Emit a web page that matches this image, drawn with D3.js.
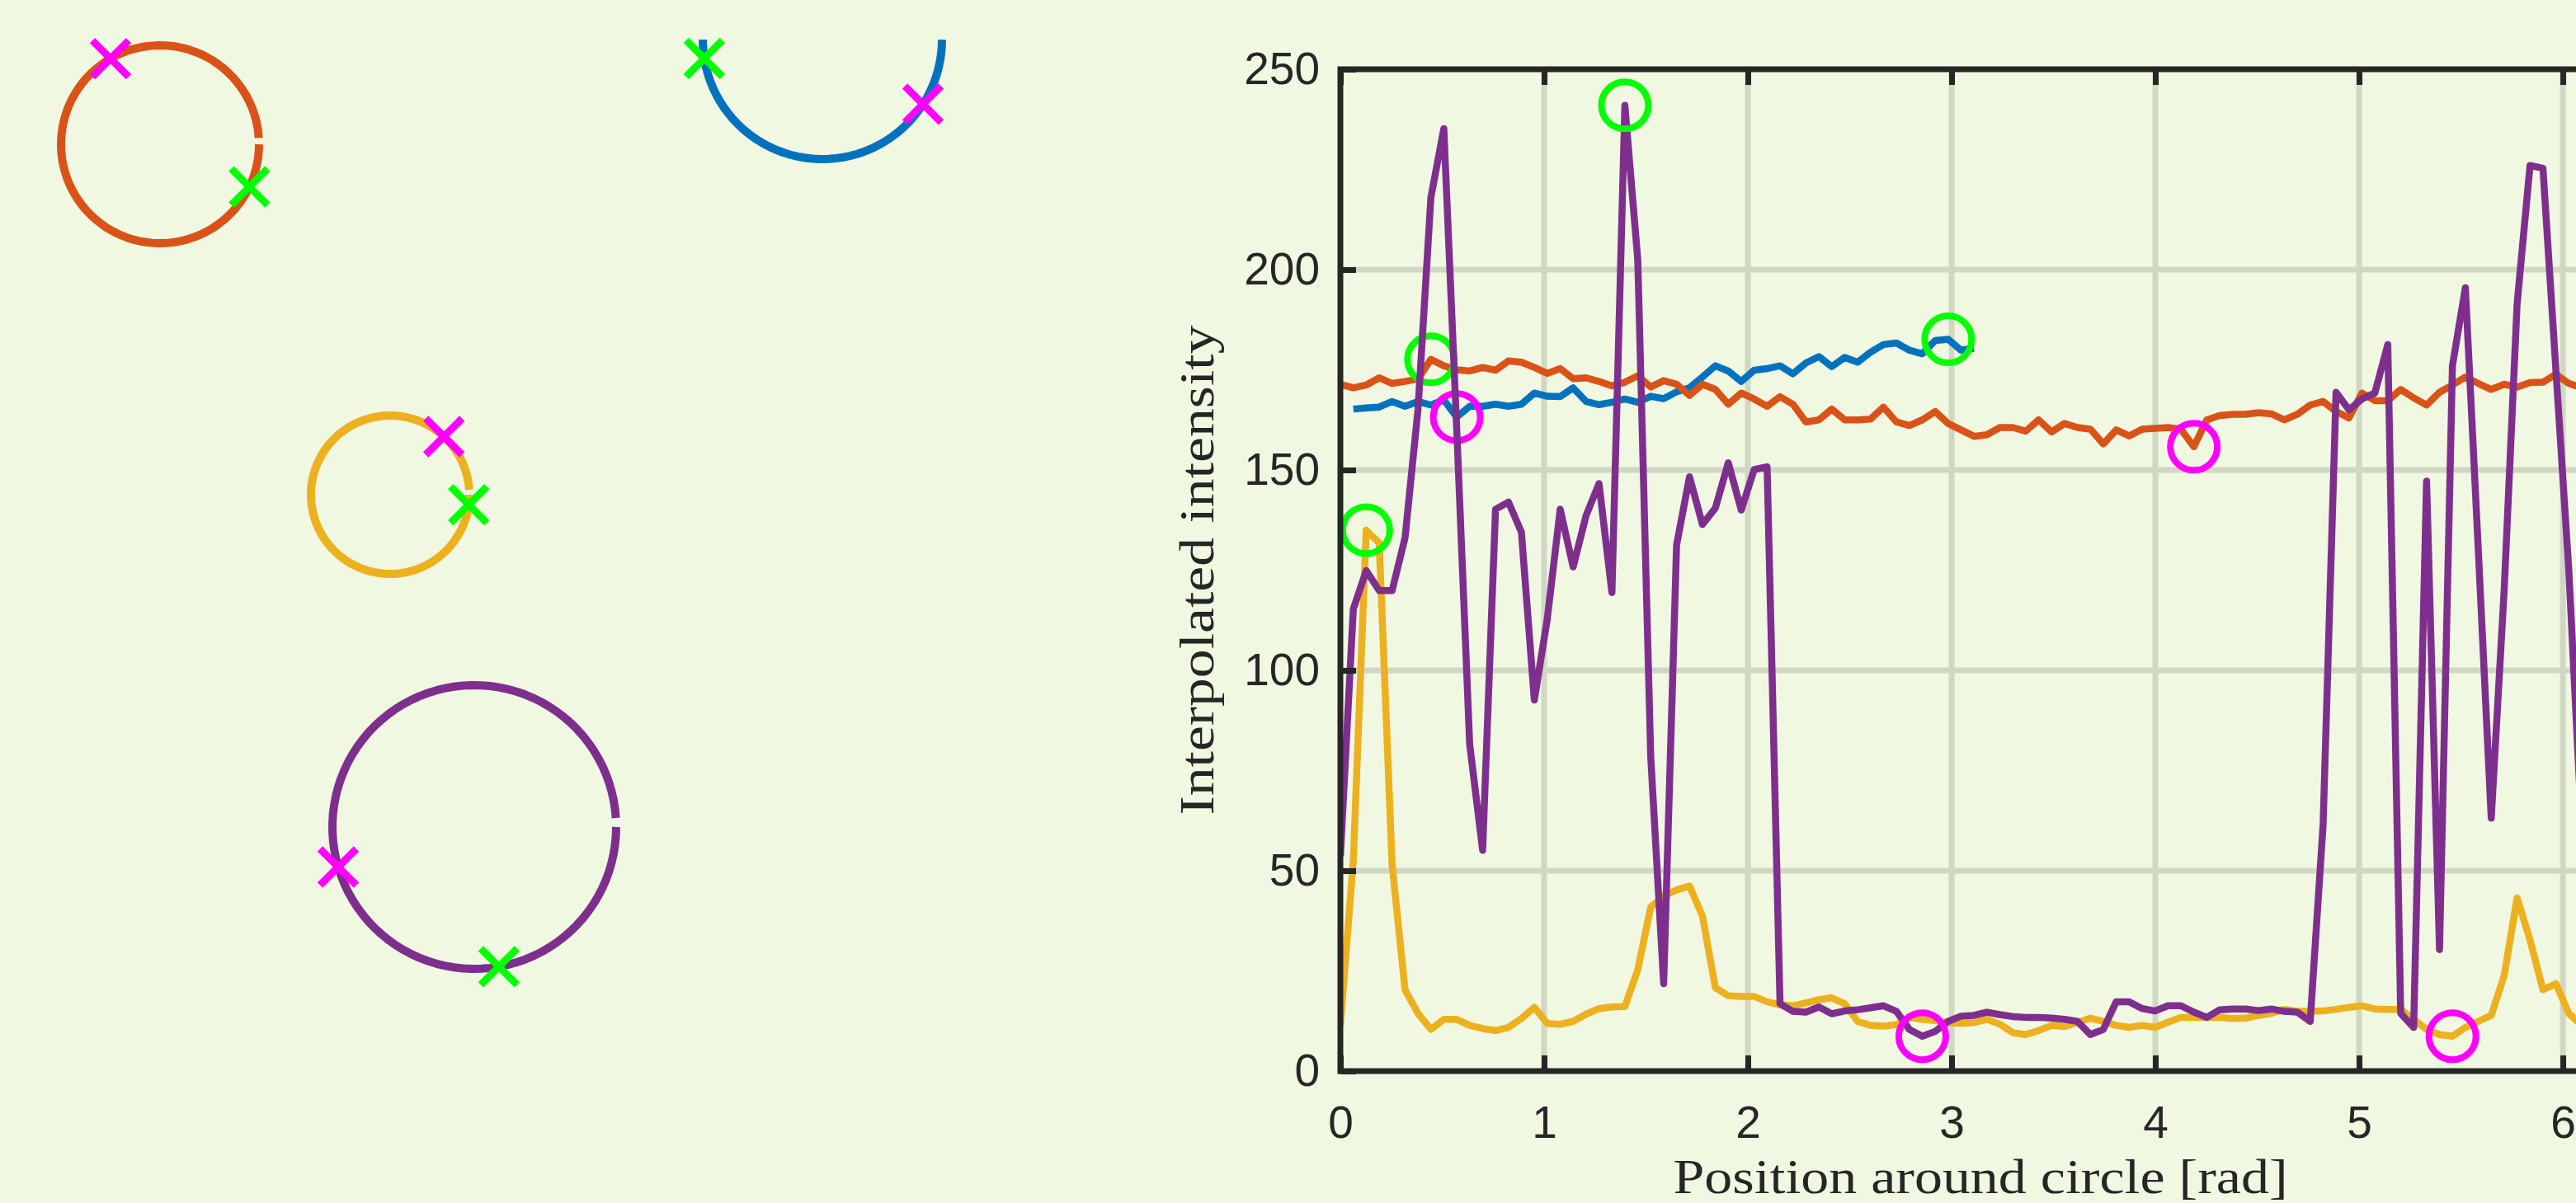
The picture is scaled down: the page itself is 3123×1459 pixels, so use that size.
<!DOCTYPE html>
<html><head><meta charset="utf-8">
<script src="https://cdn.jsdelivr.net/npm/d3@7"></script>
<style>
html,body{margin:0;padding:0;background:#f0f8e1;}
svg{display:block;}
</style></head><body>
<script>
// ---------------- data ----------------
const nSamples = 100;                 // samples taken around each circle (0 .. 2*pi)
const xTicks = [0, 1, 2, 3, 4, 5, 6];
const yTicks = [0, 50, 100, 150, 200, 250];
const xDomain = [0, 2 * Math.PI];
const yDomain = [0, 250];
const xLabel = "Position around circle [rad]";
const yLabel = "Interpolated intensity";

const seriesColors = ["#0072BD", "#D95319", "#EDB120", "#7E2F8E"];

// intensity profiles (index = sample number around the circle); null = outside image
const blueIntensity = [null,
  165.2, 165.5, 165.7, 167.1, 165.9, 167.1, 166.2, 167.5, 163.2, 165.9,
  165.9, 166.4, 165.9, 166.4, 169.2, 168.4, 168.3, 170.5, 167.1, 166.3,
  166.9, 167.7, 166.9, 168.4, 167.8, 169.5, 170.5, 173.2, 176.0, 174.7,
  172.1, 174.9, 175.3, 176.0, 174.0, 176.7, 178.3, 175.8, 178.1, 176.9,
  179.4, 181.3, 181.7, 179.9, 179.0, 182.3, 182.6, 179.9, 180.4];

const orangeIntensity = [
  171.4, 170.5, 171.2, 173.0, 171.6, 172.1, 172.7, 177.6, 176.0, 175.0,
  174.7, 175.6, 174.9, 177.2, 176.9, 175.6, 174.1, 175.3, 172.8, 173.0,
  172.1, 171.0, 171.9, 173.5, 170.7, 172.3, 171.4, 168.6, 171.4, 170.1,
  166.4, 169.2, 167.7, 165.9, 168.3, 166.4, 162.0, 162.5, 165.2, 162.5,
  162.5, 162.7, 165.7, 162.0, 161.1, 162.5, 164.6, 161.6, 160.0, 158.4,
  158.8, 160.6, 160.6, 159.7, 162.5, 159.5, 161.6, 160.6, 160.2, 156.5,
  160.0, 158.5, 160.2, 160.4, 160.6, 160.2, 155.8, 162.5, 163.6, 163.9,
  163.9, 164.3, 164.0, 162.5, 163.9, 166.2, 167.1, 164.6, 163.0, 169.2,
  167.3, 167.3, 170.1, 168.0, 166.2, 169.4, 171.2, 173.2, 171.6, 170.1,
  171.4, 170.7, 171.8, 171.9, 173.9, 171.6, 170.5, 171.0];

const yellowIntensity = [
  11.4, 52.6, 135.0, 131.8, 51.6, 20.3, 14.4, 10.4, 12.9, 12.9,
  11.4, 10.6, 10.1, 10.9, 13.1, 15.9, 11.9, 11.7, 12.4, 14.2,
  15.6, 16.0, 16.1, 25.3, 40.9, 43.7, 45.2, 46.2, 38.7, 20.8,
  18.8, 18.6, 18.6, 17.3, 16.5, 16.3, 17.0, 17.8, 18.3, 16.8,
  12.4, 11.4, 11.2, 11.6, 13.4, 12.9, 12.6, 12.1, 11.9, 12.1,
  12.9, 11.7, 9.6, 9.1, 10.1, 11.4, 11.1, 12.1, 13.2, 12.4,
  11.4, 10.9, 11.4, 10.9, 12.2, 13.4, 13.4, 13.4, 13.4, 13.1,
  13.2, 13.9, 14.4, 15.4, 14.9, 14.9, 15.0, 15.4, 15.9, 16.3,
  15.5, 15.4, 15.4, 12.9, 10.4, 9.1, 8.7, 10.9, 12.4, 13.9,
  23.8, 43.2, 32.7, 20.3, 21.8, 14.4, 11.4, 10.5];

const purpleIntensity = [
  53.6, 115.3, 124.9, 119.9, 119.9, 133.1, 165.0, 218.0, 235.2, 160.0,
  81.5, 55.1, 140.2, 142.0, 134.5, 92.6, 112.8, 140.2, 125.8, 138.6,
  146.6, 119.4, 241.0, 202.4, 78.5, 21.8, 131.3, 148.3, 136.4, 140.5,
  151.8, 140.0, 150.1, 150.8, 16.8, 14.9, 14.7, 16.0, 14.3, 15.0,
  15.3, 15.8, 16.3, 14.9, 10.4, 8.7, 9.9, 12.4, 13.7, 13.9,
  14.7, 14.1, 13.6, 13.4, 13.4, 13.2, 12.9, 12.4, 9.1, 10.4,
  17.3, 17.3, 15.6, 15.0, 16.3, 16.3, 14.7, 13.4, 15.3, 15.5,
  15.5, 15.1, 15.5, 14.9, 14.7, 12.4, 61.6, 169.4, 165.0, 167.7,
  169.2, 181.3, 14.4, 10.9, 147.2, 30.3, 176.0, 195.5, 130.0, 63.1,
  120.0, 191.4, 226.0, 225.3, 175.0, 125.0, 60.0, 30.0];

// detected circles in image pixel units (same order as series)
const circleCx = [498.5, 97, 236.5, 287.5];
const circleCy = [0, 63.5, 276, 477.5];
const circleR  = [72.5, 60, 48, 86];

const profiles = [blueIntensity, orangeIntensity, yellowIntensity, purpleIntensity];

// ---------------- layout ----------------
const W = 3123, H = 1459;
const bg = "#f0f8e1";
const axisColor = "#262626";
const gridColor = "#d0d7c3";
const plot = {left: 1625, right: 3177, top: 84, bottom: 1299};
const img = {x0: 0, x1: 1400, y0: 48, y1: 1448, size: 700};

const theta = d3.range(nSamples).map(i => i * 2 * Math.PI / (nSamples - 1));

const svg = d3.select("body").append("svg")
  .attr("width", W).attr("height", H)
  .style("background", bg);

const defs = svg.append("defs");
defs.append("clipPath").attr("id", "plotClip").append("rect")
  .attr("x", plot.left).attr("y", plot.top)
  .attr("width", plot.right - plot.left).attr("height", plot.bottom - plot.top);
defs.append("clipPath").attr("id", "imgClip").append("rect")
  .attr("x", img.x0).attr("y", img.y0)
  .attr("width", img.x1 - img.x0).attr("height", img.y1 - img.y0);

// ---------------- left panel: circles ----------------
const ix = d3.scaleLinear().domain([0, img.size]).range([img.x0, img.x1]);
const iy = d3.scaleLinear().domain([0, img.size]).range([img.y0, img.y1]);

const left = svg.append("g");
const xMark = s => `M${-s},${-s}L${s},${s}M${-s},${s}L${s},${-s}`;

profiles.forEach((prof, k) => {
  const pts = theta.slice(0, nSamples - 1).map(t => [
    ix(circleCx[k] + circleR[k] * Math.cos(t)),
    iy(circleCy[k] + circleR[k] * Math.sin(t))]);
  left.append("path")
    .attr("d", d3.line()(pts))
    .attr("clip-path", "url(#imgClip)")
    .attr("fill", "none").attr("stroke", seriesColors[k])
    .attr("stroke-width", 10).attr("stroke-linejoin", "round");
});
profiles.forEach((prof, k) => {
  const iMax = d3.maxIndex(prof), iMin = d3.minIndex(prof);
  [[iMin, "#ff00ff"], [iMax, "#00ff00"]].forEach(([i, c]) => {
    left.append("path")
      .attr("d", xMark(22))
      .attr("transform", `translate(${ix(circleCx[k] + circleR[k] * Math.cos(theta[i]))},${iy(circleCy[k] + circleR[k] * Math.sin(theta[i]))})`)
      .attr("fill", "none").attr("stroke", c).attr("stroke-width", 9);
  });
});

// ---------------- right panel: profiles ----------------
const x = d3.scaleLinear().domain(xDomain).range([plot.left, plot.right]);
const y = d3.scaleLinear().domain(yDomain).range([plot.bottom, plot.top]);

const grid = svg.append("g");
grid.selectAll("line.gx").data(xTicks.filter(t => t > 0)).join("line")
  .attr("x1", d => x(d)).attr("x2", d => x(d))
  .attr("y1", plot.top).attr("y2", plot.bottom)
  .attr("stroke", gridColor).attr("stroke-width", 7);
grid.selectAll("line.gy").data(yTicks.filter(t => t > 0 && t < 250)).join("line")
  .attr("x1", plot.left).attr("x2", plot.right)
  .attr("y1", d => y(d)).attr("y2", d => y(d))
  .attr("stroke", gridColor).attr("stroke-width", 7);

const lines = svg.append("g").attr("clip-path", "url(#plotClip)");
const lineGen = d3.line()
  .defined(d => d[1] != null)
  .x(d => x(d[0])).y(d => y(d[1]));

profiles.forEach((prof, k) => {
  const pts = prof.map((v, i) => [theta[i], v]);
  lines.append("path")
    .attr("d", lineGen(pts))
    .attr("fill", "none").attr("stroke", seriesColors[k])
    .attr("stroke-width", 8.5).attr("stroke-linejoin", "round").attr("stroke-linecap", "butt");
  const iMax = d3.maxIndex(prof), iMin = d3.minIndex(prof);
  [[iMax, "#00ff00"], [iMin, "#ff00ff"]].forEach(([i, c]) => {
    lines.append("circle")
      .attr("cx", x(theta[i])).attr("cy", y(prof[i])).attr("r", 28.5)
      .attr("fill", "none").attr("stroke", c).attr("stroke-width", 8);
  });
});

// axes (box with inward ticks)
const fontTick = "'Liberation Sans', Arial, Helvetica, sans-serif";
function styleAxis(g) {
  g.select(".domain").remove();
  g.selectAll(".tick line").attr("stroke", axisColor).attr("stroke-width", 7);
  g.selectAll(".tick text").attr("fill", axisColor)
    .style("font-family", fontTick).style("font-size", "55px");
}
svg.append("g").attr("transform", `translate(0,${plot.bottom})`)
  .call(d3.axisBottom(x).tickValues(xTicks).tickFormat(d3.format("d")).tickSize(-19).tickPadding(42))
  .call(styleAxis);
svg.append("g").attr("transform", `translate(0,${plot.top})`)
  .call(d3.axisTop(x).tickValues(xTicks).tickFormat("").tickSize(-19))
  .call(styleAxis);
svg.append("g").attr("transform", `translate(${plot.left},0)`)
  .call(d3.axisLeft(y).tickValues(yTicks).tickFormat(d3.format("d")).tickSize(-19).tickPadding(25))
  .call(styleAxis);
svg.append("g").attr("transform", `translate(${plot.right},0)`)
  .call(d3.axisRight(y).tickValues(yTicks).tickFormat("").tickSize(-19))
  .call(styleAxis);

svg.append("rect")
  .attr("x", plot.left).attr("y", plot.top)
  .attr("width", plot.right - plot.left).attr("height", plot.bottom - plot.top)
  .attr("fill", "none").attr("stroke", axisColor).attr("stroke-width", 7)
  .attr("stroke-linejoin", "miter");

// labels
const fontLabel = "'Liberation Serif', 'Times New Roman', serif";
svg.append("text")
  .attr("x", (plot.left + plot.right) / 2).attr("y", 1447)
  .attr("text-anchor", "middle")
  .attr("textLength", 745).attr("lengthAdjust", "spacingAndGlyphs")
  .style("font-family", fontLabel).style("font-size", "60px")
  .attr("fill", axisColor).text(xLabel);
svg.append("text")
  .attr("transform", `translate(1471,${(plot.top + plot.bottom) / 2}) rotate(-90)`)
  .attr("text-anchor", "middle")
  .attr("textLength", 594).attr("lengthAdjust", "spacingAndGlyphs")
  .style("font-family", fontLabel).style("font-size", "60px")
  .attr("fill", axisColor).text(yLabel);
</script>
</body></html>
